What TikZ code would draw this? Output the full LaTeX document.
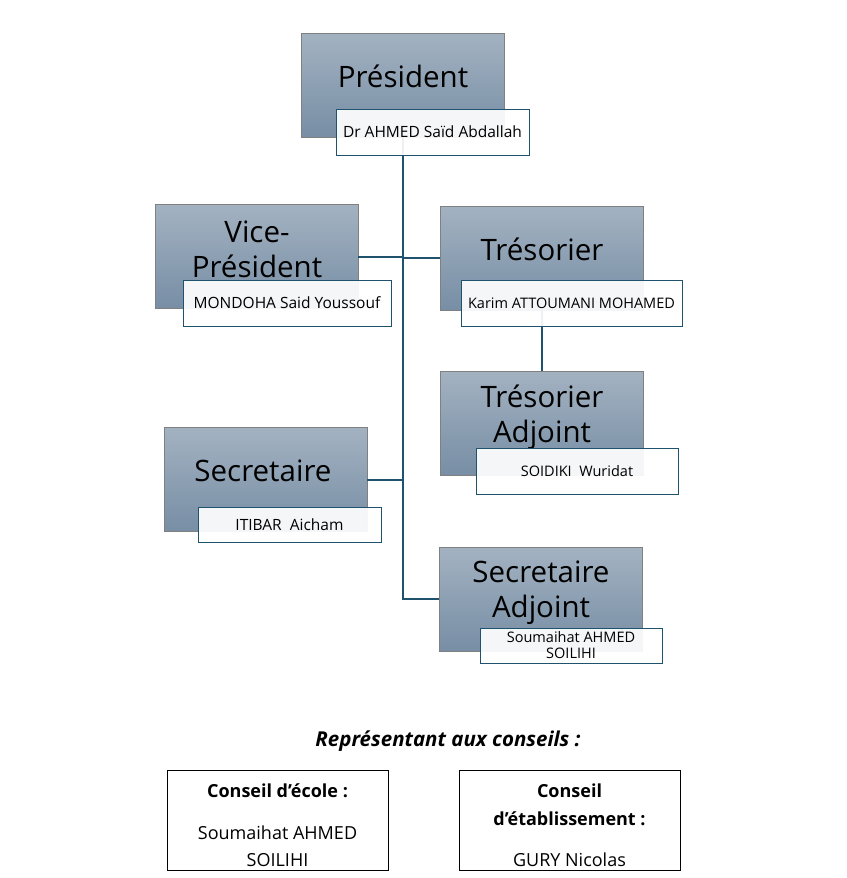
\documentclass[tikz,border=0pt]{standalone}
\usepackage{fontspec}
\setmainfont{Open Sans}
\definecolor{roletop}{RGB}{163,178,193}
\definecolor{rolebot}{RGB}{119,142,165}
\definecolor{roleedge}{RGB}{128,128,128}
\definecolor{linkblue}{RGB}{31,82,108}
\begin{document}
\begin{tikzpicture}[x=1pt,y=-1pt,
    rolebox/.style={draw=roleedge, line width=0.8pt, top color=roletop, bottom color=rolebot,
      minimum width=203pt, minimum height=104pt, inner sep=0pt},
    roletext/.style={anchor=base, align=center, inner sep=0pt, font=\fontsize{29.5}{35}\selectfont},
    person/.style={draw=linkblue, line width=0.9pt, fill=white, fill opacity=0.92, text opacity=1,
      minimum height=46pt, inner sep=0pt, align=center, font=\fontsize{14.5}{16}\selectfont},
    bigperson/.style={person, font=\fontsize{15.5}{17}\selectfont},
    council/.style={draw=black, line width=0.9pt, minimum width=221pt, minimum height=100pt, inner sep=0pt},
    counciltext/.style={anchor=base, inner sep=0pt, font=\fontsize{18}{21}\selectfont},
    councilhead/.style={counciltext, font=\fontsize{18}{21}\selectfont\bfseries}]
  \useasboundingbox (0,0) rectangle (846,878);
  \node[rolebox] (pres) at (402.5,85) {};
  \node[rolebox] (vice) at (256.5,256.5) {};
  \node[rolebox] (tres) at (542,258) {};
  \node[rolebox] (tadj) at (542,423) {};
  \node[rolebox] (sec) at (265.5,479.5) {};
  \node[rolebox] (sadj) at (540.5,599) {};
  \node[roletext] (pres-t) at (403,87) {Président};
  \node[roletext] (vice-t) at (257,277) {Vice-\\Président};
  \node[roletext] (tres-t) at (542,260) {Trésorier};
  \node[roletext] (tadj-t) at (542,442) {Trésorier\\Adjoint};
  \node[roletext] (sec-t) at (263,481) {Secretaire};
  \node[roletext] (sadj-t) at (541,617) {Secretaire\\Adjoint};
  \begin{scope}[draw=linkblue, line width=2pt]
    \draw (pres.south) -- (pres.south |- sadj.west) -- (sadj.west);
    \draw (vice.east) -- (vice.east -| pres.south);
    \draw (tres.west) -- (tres.west -| pres.south);
    \draw (sec.east) -- (sec.east -| pres.south);
    \draw (tres.south) -- (tadj.north);
  \end{scope}
  \node[bigperson, minimum width=193pt] (pres-n) at (432.5,132) {Dr AHMED Saïd Abdallah};
  \node[bigperson, minimum width=208pt] (vice-n) at (287,303) {MONDOHA Said Youssouf};
  \node[person, minimum width=221pt] (tres-n) at (571.5,303.5) {Karim ATTOUMANI MOHAMED};
  \node[person, minimum width=202pt] (tadj-n) at (577,471) {SOIDIKI\ \ Wuridat};
  \node[bigperson, minimum width=183pt, minimum height=35pt] (sec-n) at (289.5,524.5) {ITIBAR\ \ Aicham};
  \node[person, minimum width=182pt, minimum height=35pt] (sadj-n) at (571,645.5) {Soumaihat AHMED\\SOILIHI};
  \node[anchor=base, inner sep=0pt, font=\fontsize{20.5}{24}\selectfont\bfseries\itshape] (reps) at (448,746.5) {Représentant aux conseils :};
  \node[council] (ecole) at (277.5,820) {};
  \node[council] (etab) at (569.5,820) {};
  \node[councilhead] (ecole-t) at (277.5,797.5) {Conseil d’école :};
  \node[counciltext] (ecole-a) at (277.5,839) {Soumaihat AHMED};
  \node[counciltext] (ecole-b) at (277.5,866) {SOILIHI};
  \node[councilhead] (etab-t) at (569.5,797.5) {Conseil};
  \node[councilhead] (etab-u) at (569.5,825) {d’établissement :};
  \node[counciltext] (etab-a) at (569.5,866) {GURY Nicolas};
\end{tikzpicture}
\end{document}
